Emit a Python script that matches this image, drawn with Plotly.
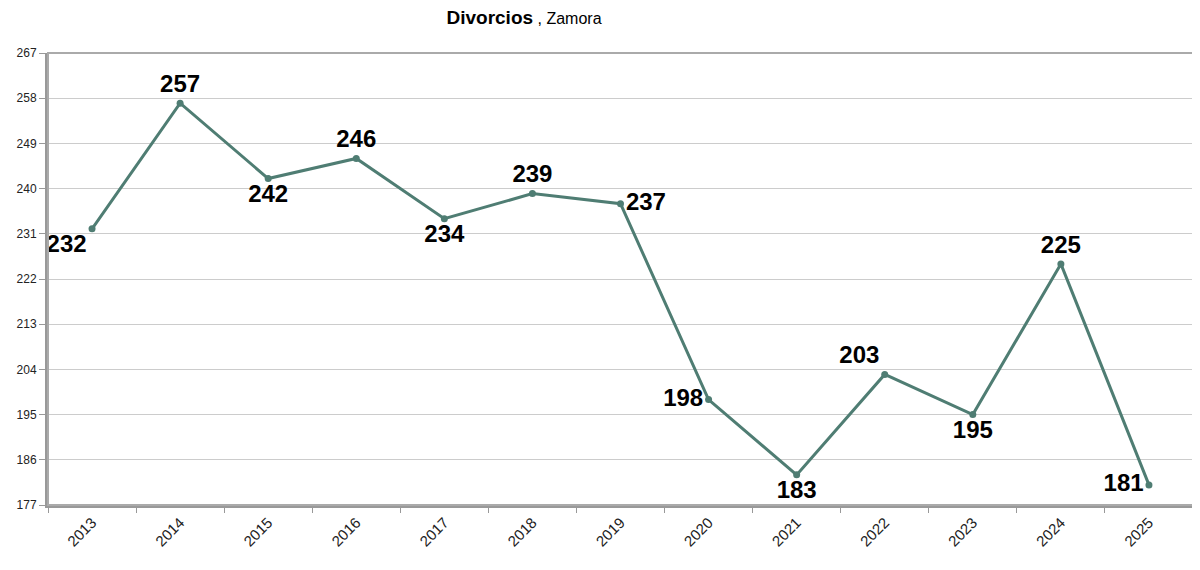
import plotly.graph_objects as go

years = ["2013","2014","2015","2016","2017","2018","2019","2020","2021","2022","2023","2024","2025"]
values = [232,257,242,246,234,239,237,198,183,203,195,225,181]
tick_vals = [177,186,195,204,213,222,231,240,249,258,267]
label_pos = ["bottom left","top center","bottom center","top center","bottom center","top center",
             "middle right","middle left","bottom center","top left","bottom center","top center","middle left"]

color = "#4f7d73"
fig = go.Figure(go.Scatter(
    x=years, y=values, mode="lines+markers+text",
    line=dict(color=color, width=3), marker=dict(color=color, size=7),
    text=[str(v) for v in values], textposition=label_pos,
    textfont=dict(family="Arial, Liberation Sans", size=24, color="black"),
    texttemplate="<b>%{text}</b>", cliponaxis=False))

fig.update_layout(
    width=1200, height=570, plot_bgcolor="white", paper_bgcolor="white",
    margin=dict(l=40, r=15, t=45, b=73, autoexpand=False), showlegend=False,
    title=dict(text="<b>Divorcios</b><span style='font-size:16px'> , Zamora</span>",
               x=0.43, xanchor="center", y=0.995, yanchor="top",
               font=dict(family="Arial, Liberation Sans", size=19, color="black")),
    xaxis=dict(type="category", range=[-0.5, 12.5], tickangle=-45, showgrid=False, automargin=False,
               showline=True, linecolor="#999", linewidth=3, mirror=False,
               ticks="outside", tickson="boundaries", ticklen=5, tickcolor="#999",
               tickfont=dict(family="Arial, Liberation Sans", size=15, color="#222")),
    yaxis=dict(range=[177, 267], tickvals=tick_vals, showgrid=True, gridcolor="#ccc", automargin=False,
               showline=True, linecolor="#999", linewidth=3, ticks="outside", ticklen=6,
               tickcolor="#999", zeroline=False,
               tickfont=dict(family="Arial, Liberation Sans", size=12, color="#222")),
    shapes=[dict(type="rect", xref="paper", yref="paper", x0=0, x1=1, y0=0, y1=1,
                 line=dict(color="#aaa", width=2))])
fig.write_html("out.html")
